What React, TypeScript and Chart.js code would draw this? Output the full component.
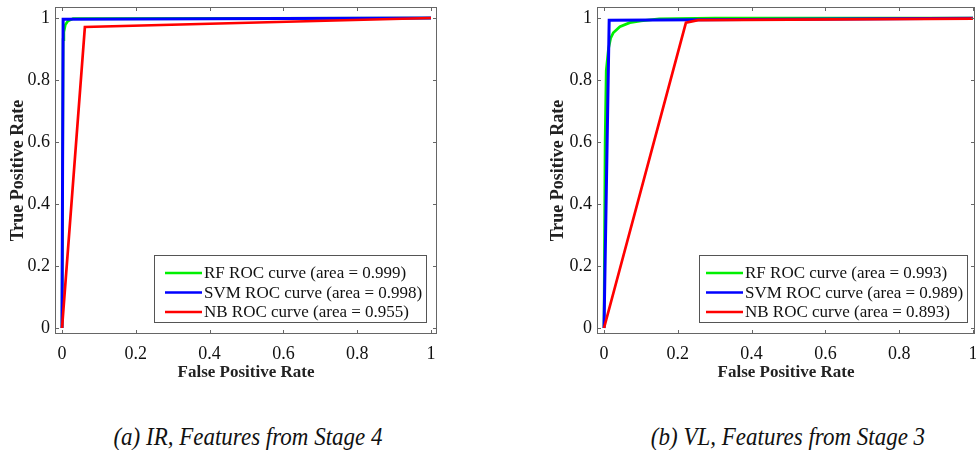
import React, { useEffect, useRef } from "react";
import { Chart, registerables } from "chart.js";

Chart.register(...registerables);

const SERIF = '"Liberation Serif", "Times New Roman", serif';

// Tick values shared by both panels
const xTickValues = [0, 0.2, 0.4, 0.6, 0.8, 1];
const yTickValues = [0, 0.2, 0.4, 0.6, 0.8, 1];

// Panel (a): IR, features from stage 4
const irRfX = [0, 0.003, 0.005, 0.009, 0.016, 0.03, 1];
const irRfY = [0, 0.93, 0.955, 0.978, 0.99, 0.998, 1];
const irSvmX = [0, 0.003, 1];
const irSvmY = [0, 0.996, 1];
const irNbX = [0, 0.062, 1];
const irNbY = [0, 0.971, 1];

// Panel (b): VL, features from stage 3
const vlRfX = [0, 0.003, 0.006, 0.012, 0.018, 0.025, 0.043, 0.07, 0.1, 0.15, 0.3, 1];
const vlRfY = [0, 0.6, 0.83, 0.9, 0.935, 0.952, 0.972, 0.985, 0.991, 0.997, 1, 1];
const vlSvmX = [0, 0.014, 1];
const vlSvmY = [0, 0.993, 0.999];
const vlNbX = [0, 0.222, 0.255, 1];
const vlNbY = [0, 0.985, 0.993, 0.998];

const irLabels = [
  "RF ROC curve (area = 0.999)",
  "SVM ROC curve (area = 0.998)",
  "NB ROC curve (area = 0.955)",
];
const vlLabels = [
  "RF ROC curve (area = 0.993)",
  "SVM ROC curve (area = 0.989)",
  "NB ROC curve (area = 0.893)",
];

const captions = ["(a) IR, Features from Stage 4", "(b) VL, Features from Stage 3"];

const seriesColors = ["#00f000", "#0000ff", "#ff0000"];
const seriesWidths = [2.7, 3, 2.7];

const toPoints = (xs: number[], ys: number[]) => xs.map((x, i) => ({ x, y: ys[i] }));

const framePlugin = {
  id: "rocFrame",
  afterDraw(chart: any, _args: any, opts: any) {
    const { ctx, chartArea: a } = chart;
    const xs = chart.scales.x;
    const ys = chart.scales.y;
    ctx.save();
    // box
    ctx.strokeStyle = "#666";
    ctx.lineWidth = 1;
    ctx.strokeRect(Math.round(a.left) + 0.5, Math.round(a.top) + 0.5, Math.round(a.right - a.left) - 1, Math.round(a.bottom - a.top) - 1);
    // inward ticks
    const tl = 4;
    ctx.beginPath();
    xTickValues.forEach((v) => {
      const px = Math.round(xs.getPixelForValue(v)) + 0.5;
      ctx.moveTo(px, a.bottom);
      ctx.lineTo(px, a.bottom - tl);
      ctx.moveTo(px, a.top);
      ctx.lineTo(px, a.top + tl);
    });
    yTickValues.forEach((v) => {
      const py = Math.round(ys.getPixelForValue(v)) + 0.5;
      ctx.moveTo(a.left, py);
      ctx.lineTo(a.left + tl, py);
      ctx.moveTo(a.right, py);
      ctx.lineTo(a.right - tl, py);
    });
    ctx.stroke();

    // legend
    const ds = chart.data.datasets;
    ctx.font = `17px ${SERIF}`;
    const maxW = Math.max(...ds.map((d: any) => ctx.measureText(d.label).width));
    const padL = opts.padL ?? 10;
    const lineLen = 37;
    const gap = 2;
    const padR = 5;
    const w = padL + lineLen + gap + maxW + padR;
    const h = 68;
    const right = Math.round(a.right - opts.marginRight);
    const bottom = Math.round(a.bottom - opts.marginBottom);
    const left = right - Math.round(w);
    const top = bottom - h;
    ctx.fillStyle = "#ffffff";
    ctx.fillRect(left, top, right - left, h);
    ctx.strokeStyle = "#555";
    ctx.lineWidth = 1;
    ctx.strokeRect(left + 0.5, top + 0.5, right - left - 1, h - 1);
    ds.forEach((d: any, i: number) => {
      const cy = top + 18 + i * 19.5;
      ctx.strokeStyle = d.borderColor;
      ctx.lineWidth = 2.5;
      ctx.beginPath();
      ctx.moveTo(left + padL, cy);
      ctx.lineTo(left + padL + lineLen, cy);
      ctx.stroke();
      ctx.fillStyle = "#111";
      ctx.textBaseline = "middle";
      ctx.textAlign = "left";
      ctx.fillText(d.label, left + padL + lineLen + gap, cy + 1);
    });
    ctx.restore();
  },
};

type PanelCfg = {
  series: { x: number[]; y: number[] }[];
  labels: string[];
  xMin: number;
  xMax: number;
  yWidth: number;
  padding: { left: number; right: number; top: number; bottom: number };
  legendRight: number;
  legendBottom: number;
  legendPadL: number;
};

function makeConfig(p: PanelCfg): any {
  return {
    type: "scatter",
    data: {
      datasets: p.series.map((s, i) => ({
        label: p.labels[i],
        data: toPoints(s.x, s.y),
        showLine: true,
        borderColor: seriesColors[i],
        backgroundColor: seriesColors[i],
        borderWidth: seriesWidths[i],
        pointRadius: 0,
        tension: 0,
        order: 2 - i,
      })),
    },
    options: {
      animation: false,
      responsive: false,
      devicePixelRatio: 1,
      layout: { padding: p.padding },
      plugins: {
        legend: { display: false },
        tooltip: { enabled: false },
        rocFrame: {
          marginRight: p.legendRight,
          marginBottom: p.legendBottom,
          padL: p.legendPadL,
        },
      },
      scales: {
        x: {
          type: "linear",
          min: p.xMin,
          max: p.xMax,
          afterBuildTicks: (s: any) => {
            s.ticks = xTickValues.map((v) => ({ value: v }));
          },
          afterFit: (s: any) => {
            s.height = 66;
            s.paddingLeft = 0;
            s.paddingRight = 0;
          },
          grid: { display: false, drawTicks: false },
          border: { display: false },
          ticks: {
            padding: 9,
            color: "#111",
            font: { family: SERIF, size: 18 },
            maxRotation: 0,
            autoSkip: false,
            callback: (v: any) => String(v),
          },
          title: {
            display: true,
            text: "False Positive Rate",
            color: "#222",
            font: { family: SERIF, size: 17, weight: "bold" },
            padding: { top: 0, bottom: 17 },
          },
        },
        y: {
          type: "linear",
          min: -0.0194,
          max: 1.0355,
          afterBuildTicks: (s: any) => {
            s.ticks = yTickValues.map((v) => ({ value: v }));
          },
          afterFit: (s: any) => {
            s.width = p.yWidth;
            s.paddingTop = 0;
            s.paddingBottom = 0;
          },
          grid: { display: false, drawTicks: false },
          border: { display: false },
          ticks: {
            padding: 5,
            color: "#111",
            font: { family: SERIF, size: 18 },
            autoSkip: false,
            callback: (v: any) => String(v),
          },
          title: {
            display: true,
            text: "True Positive Rate",
            color: "#222",
            font: { family: SERIF, size: 18, weight: "bold" },
            padding: { top: 8, bottom: 0 },
          },
        },
      },
    },
    plugins: [framePlugin],
  };
}

const panels: PanelCfg[] = [
  {
    series: [
      { x: irRfX, y: irRfY },
      { x: irSvmX, y: irSvmY },
      { x: irNbX, y: irNbY },
    ],
    labels: irLabels,
    xMin: -0.019,
    xMax: 1.0163,
    yWidth: 55,
    padding: { left: 0, right: 51, top: 7, bottom: 0 },
    legendRight: 10,
    legendBottom: 11,
    legendPadL: 11,
  },
  {
    series: [
      { x: vlRfX, y: vlRfY },
      { x: vlSvmX, y: vlSvmY },
      { x: vlNbX, y: vlNbY },
    ],
    labels: vlLabels,
    xMin: -0.019,
    xMax: 1.0054,
    yWidth: 57,
    padding: { left: 52, right: 1, top: 7, bottom: 0 },
    legendRight: 7,
    legendBottom: 11,
    legendPadL: 7,
  },
];

function Panel({ cfg, left }: { cfg: PanelCfg; left: number }) {
  const ref = useRef<HTMLCanvasElement | null>(null);
  useEffect(() => {
    if (!ref.current) return;
    const chart = new Chart(ref.current, makeConfig(cfg));
    return () => chart.destroy();
  }, [cfg]);
  return (
    <canvas
      ref={ref}
      width={488}
      height={400}
      style={{ position: "absolute", left, top: 0, width: 488, height: 400 }}
    />
  );
}

export default function App() {
  return (
    <div
      style={{
        position: "absolute",
        left: 0,
        top: 0,
        width: 976,
        height: 457,
        overflow: "hidden",
        background: "#ffffff",
      }}
    >
      <Panel cfg={panels[0]} left={0} />
      <Panel cfg={panels[1]} left={488} />
      {captions.map((c, i) => (
        <div
          key={c}
          style={{
            position: "absolute",
            left: i === 0 ? 248 - 200 : 788 - 200,
            width: 400,
            top: 423,
            height: 28,
            lineHeight: "28px",
            textAlign: "center",
            fontFamily: SERIF,
            fontStyle: "italic",
            fontSize: 23,
            color: "#111",
            whiteSpace: "nowrap",
            transform: "scaleY(1.08)",
          }}
        >
          {c}
        </div>
      ))}
    </div>
  );
}
